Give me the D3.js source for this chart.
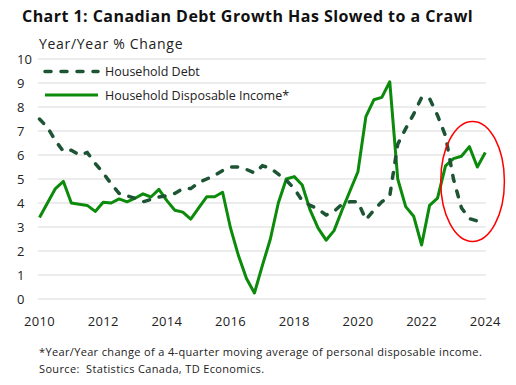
<!DOCTYPE html>
<html>
<head>
<meta charset="utf-8">
<script src="https://cdn.jsdelivr.net/npm/d3@7"></script>
<style>
  body { margin: 0; background: #fff; }
  text { font-family: "Open Sans", sans-serif; fill: #222; }
</style>
</head>
<body>
<div id="main"></div>
<script>
// quarterly data, 2010Q1 .. 2024Q1
const startYear = 2010;
const debt = [7.5, 7.15, 6.6, 6.15, 6.2, 6.0, 6.1, 5.65, 5.25, 4.8, 4.4, 4.3, 4.2, 4.05, 4.15, 4.25,
  4.3, 4.4, 4.6, 4.6, 4.85, 5.0, 5.15, 5.35, 5.5, 5.5, 5.4, 5.25, 5.55, 5.45, 5.2, 4.95,
  4.6, 4.1, 3.9, 3.75, 3.5, 3.65, 3.95, 4.05, 4.05, 3.3, 3.7, 4.05, 4.3, 6.45, 7.1, 7.7,
  8.4, 8.35, 7.65, 6.8, 5.0, 3.8, 3.35, 3.25, 3.4];
const income = [3.4, 4.0, 4.6, 4.9, 4.0, 3.95, 3.9, 3.65, 4.03, 4.0, 4.17, 4.05, 4.2, 4.38, 4.25, 4.57,
  4.1, 3.7, 3.62, 3.33, 3.8, 4.26, 4.26, 4.45, 2.95, 1.8, 0.85, 0.25, 1.4, 2.5, 4.0, 5.0,
  5.1, 4.75, 3.7, 2.95, 2.45, 2.85, 3.7, 4.5, 5.3, 7.6, 8.3, 8.4, 9.05, 5.0, 3.85, 3.45,
  2.25, 3.9, 4.2, 5.55, 5.85, 5.95, 6.35, 5.5, 6.1];
const xTicks = [2010, 2012, 2014, 2016, 2018, 2020, 2022, 2024];
const yTicks = [0, 1, 2, 3, 4, 5, 6, 7, 8, 9, 10];
const seriesNames = ["Household Debt", "Household Disposable Income*"];
// red ellipse annotation: extent in (year, value)
const highlight = { x0: 2022.6, x1: 2024.6, y0: 2.4, y1: 7.4 };

const ctx = {
    w: 516,
    h: 385,
    left: 39.5,
    right: 485.3,
    top: 59,
    bottom: 299,
    debtColor: "#1d5534",
    incomeColor: "#0b8a0b",
};

const quarters = debt.map((d, i) => startYear + i / 4);

const svg = d3.select("#main").append("svg")
    .attr("width", ctx.w)
    .attr("height", ctx.h);

const x = d3.scaleLinear().domain([2010, 2024]).range([ctx.left, ctx.right]);
const y = d3.scaleLinear().domain([0, 10]).range([ctx.bottom, ctx.top]);

// grid
svg.append("g").selectAll("line")
    .data(yTicks)
    .enter().append("line")
    .attr("x1", 38).attr("x2", 486)
    .attr("y1", d => y(d)).attr("y2", d => y(d))
    .attr("stroke", "#d9d9d9").attr("stroke-width", 1);

// y labels
svg.append("g").selectAll("text")
    .data(yTicks)
    .enter().append("text")
    .attr("x", 17)
    .attr("y", d => y(d) + 4.5)
    .style("font-size", "13px")
    .text(d => d);

// x labels
svg.append("g").selectAll("text")
    .data(xTicks)
    .enter().append("text")
    .attr("x", d => x(d))
    .attr("y", 326)
    .attr("text-anchor", "middle")
    .style("font-size", "13px")
    .style("letter-spacing", "0.3px")
    .text(d => d);

// title
svg.append("text")
    .attr("x", 22).attr("y", 21.5)
    .style("font-size", "16px")
    .style("font-weight", "bold")
    .style("letter-spacing", "0.45px")
    .style("fill", "#111")
    .text("Chart 1: Canadian Debt Growth Has Slowed to a Crawl");

svg.append("text")
    .attr("x", 39).attr("y", 48.5)
    .style("font-size", "14px")
    .style("letter-spacing", "0.7px")
    .text("Year/Year % Change");

// lines
const line = d3.line()
    .x((d, i) => x(quarters[i]))
    .y(d => y(d));

svg.append("path")
    .datum(income)
    .attr("d", line)
    .attr("fill", "none")
    .attr("stroke", ctx.incomeColor)
    .attr("stroke-width", 3)
    .attr("stroke-linejoin", "round");

svg.append("path")
    .datum(debt)
    .attr("d", line)
    .attr("fill", "none")
    .attr("stroke", ctx.debtColor)
    .attr("stroke-width", 3.5)
    .attr("stroke-linecap", "round")
    .attr("stroke-dasharray", "6,10");

// highlight ellipse
svg.append("ellipse")
    .attr("cx", (x(highlight.x0) + x(highlight.x1)) / 2)
    .attr("cy", (y(highlight.y0) + y(highlight.y1)) / 2)
    .attr("rx", (x(highlight.x1) - x(highlight.x0)) / 2)
    .attr("ry", (y(highlight.y0) - y(highlight.y1)) / 2)
    .attr("fill", "none")
    .attr("stroke", "#ff0000")
    .attr("stroke-width", 1.5);

// legend
const legend = svg.append("g");
[0, 1].forEach(k => {
    const ly = 71.5 + k * 23.5;
    legend.append("line")
        .attr("x1", 45).attr("x2", 98)
        .attr("y1", ly).attr("y2", ly)
        .attr("stroke", k === 0 ? ctx.debtColor : ctx.incomeColor)
        .attr("stroke-width", k === 0 ? 3.5 : 3)
        .attr("stroke-linecap", k === 0 ? "round" : "butt")
        .attr("stroke-dasharray", k === 0 ? "6,10" : null);
    legend.append("text")
        .attr("x", 105).attr("y", ly + 4.5)
        .style("font-size", "12.5px")
        .text(seriesNames[k]);
});

// footnote
svg.append("text")
    .attr("x", 39).attr("y", 356)
    .style("font-size", "11px")
    .style("letter-spacing", "0.35px")
    .text("*Year/Year change of a 4-quarter moving average of personal disposable income.");
svg.append("text")
    .attr("x", 39).attr("y", 372.5)
    .style("font-size", "11px")
    .style("letter-spacing", "0.35px")
    .attr("xml:space", "preserve")
    .text("Source:  Statistics Canada, TD Economics.");
</script>
</body>
</html>
